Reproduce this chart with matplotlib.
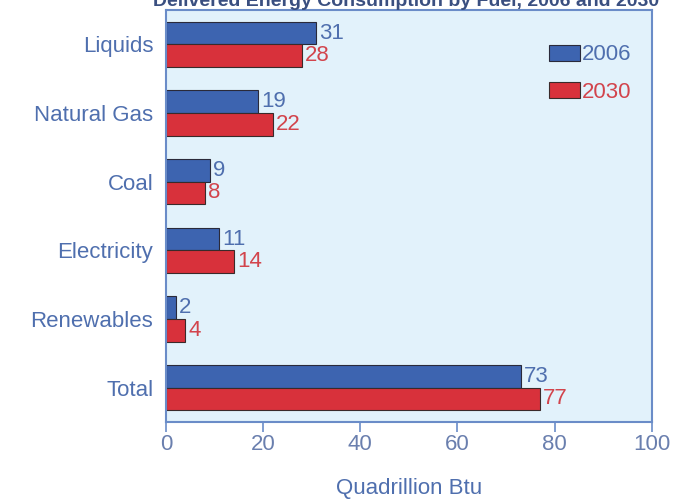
import numpy as np
import matplotlib.pyplot as plt

plt.rcParams['font.family'] = ['Liberation Sans', 'DejaVu Sans']

fuels = ['Liquids', 'Natural Gas', 'Coal', 'Electricity', 'Renewables', 'Total']
v2006 = [31, 19, 9, 11, 2, 73]
v2030 = [28, 22, 8, 14, 4, 77]

blue = '#3d64b0'
red = '#d8313b'
txtblue = '#4f6fae'
txtred = '#d2444c'
axcol = '#6a8cc8'

fig = plt.figure(figsize=(6.94, 5.0), dpi=100)
ax = fig.add_axes([0.239, 0.156, 0.70, 0.824])
ax.set_facecolor('#e2f2fb')

y = np.arange(len(fuels))
h = 0.33
ax.barh(y - h / 2, v2006, height=h, color=blue, edgecolor='#2a2a3a', linewidth=0.8, label='2006')
ax.barh(y + h / 2, v2030, height=h, color=red, edgecolor='#3a2a2a', linewidth=0.8, label='2030')

for yy, v in zip(y, v2006):
    ax.text(v + 0.6, yy - h / 2, str(v), color=txtblue, fontsize=16, va='center', ha='left')
for yy, v in zip(y, v2030):
    ax.text(v + 0.6, yy + h / 2, str(v), color=txtred, fontsize=16, va='center', ha='left')

ax.set_xlim(0, 100)
ax.set_ylim(len(fuels) - 0.5, -0.5)
ax.set_yticks(y)
ax.set_yticklabels(fuels, fontsize=16, color=txtblue)
ax.tick_params(axis='y', length=0, pad=9)
ax.set_xticks([0, 20, 40, 60, 80, 100])
ax.tick_params(axis='x', colors=axcol, labelcolor='#6a7fae', labelsize=16, length=7, width=1.2,
               direction='out', pad=2)
ax.set_xlabel('Quadrillion Btu', fontsize=16, color=txtblue, labelpad=16)
for s in ax.spines.values():
    s.set_color(axcol)
    s.set_linewidth(1.5)

leg = ax.legend(loc='upper right', bbox_to_anchor=(1.0, 0.965), frameon=False, fontsize=16,
                handlelength=1.4, handleheight=0.75, handletextpad=0.1, labelspacing=0.75)
for t, c in zip(leg.get_texts(), [txtblue, txtred]):
    t.set_color(c)

fig.text(0.585, 0.988, 'Delivered Energy Consumption by Fuel, 2006 and 2030', ha='center', va='baseline',
         fontsize=14, fontweight='bold', color='#3a4f80')

fig.savefig('out.png', dpi=100)
